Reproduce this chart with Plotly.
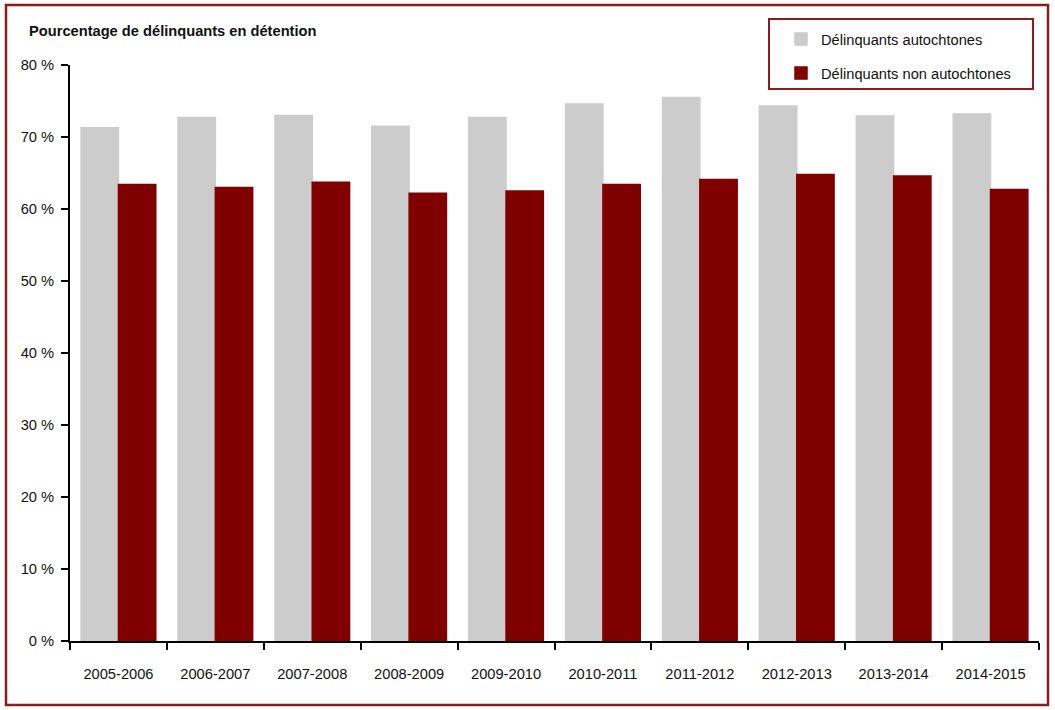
import plotly.graph_objects as go

# Données
years = ["2005-2006", "2006-2007", "2007-2008", "2008-2009", "2009-2010",
         "2010-2011", "2011-2012", "2012-2013", "2013-2014", "2014-2015"]
autochtones = [71.3, 72.7, 73.0, 71.5, 72.7, 74.6, 75.5, 74.3, 72.9, 73.2]
non_autochtones = [63.4, 63.0, 63.7, 62.2, 62.5, 63.4, 64.1, 64.8, 64.6, 62.7]
y_ticks = [0, 10, 20, 30, 40, 50, 60, 70, 80]
y_labels = [f"{v} %" for v in y_ticks]

GREY = "#cccccc"
RED = "#800000"
BORDER = "#8c1c1c"
FONT = "Arial, Liberation Sans, sans-serif"
FS = 14.67

W, H = 1055, 710
L, R, T, B = 70, 16, 65, 69
pw, ph = W - L - R, H - T - B


def px_x(x):
    return (x - L) / pw


def px_y(y):
    return 1 - (y - T) / ph


fig = go.Figure()
fig.add_trace(go.Bar(
    x=years, y=autochtones, name="Délinquants autochtones",
    marker=dict(color=GREY, line=dict(color=GREY, width=1.5)),
    legendgroup="a",
))
fig.add_trace(go.Bar(
    x=years, y=non_autochtones, name="Délinquants non autochtones",
    marker=dict(color=RED, line=dict(color=RED, width=1.5)),
    legendgroup="b",
))

fig.update_layout(
    width=W, height=H,
    margin=dict(l=L, r=R, t=T, b=B),
    paper_bgcolor="white", plot_bgcolor="white",
    font=dict(family=FONT, size=FS, color="#111111"),
    barmode="group", bargap=0.23, bargroupgap=0,
    title=dict(
        text="<b>Pourcentage de délinquants en détention</b>",
        x=29 / W, xanchor="left", xref="container",
        y=1 - 31 / H, yanchor="middle", yref="container",
        font=dict(size=FS, color="#111111"),
    ),
    showlegend=True,
    legend=dict(
        x=px_x(781), xanchor="left",
        y=px_y(23), yanchor="top",
        bgcolor="rgba(0,0,0,0)", borderwidth=0,
        tracegroupgap=12,
        font=dict(size=FS),
    ),
    xaxis=dict(
        showline=True, linecolor="black", linewidth=2,
        ticks="outside", tickson="boundaries", ticklen=7, tickwidth=2,
        tickcolor="black", ticklabelstandoff=18,
        showgrid=False, zeroline=False,
    ),
    yaxis=dict(
        range=[0, 80], tickvals=y_ticks, ticktext=y_labels,
        showline=True, linecolor="black", linewidth=2,
        ticks="outside", ticklen=7, tickwidth=2, tickcolor="black",
        ticklabelstandoff=4,
        showgrid=False, zeroline=False,
    ),
    shapes=[
        # cadre extérieur
        dict(type="rect", xref="paper", yref="paper",
             x0=px_x(6), x1=px_x(1048), y0=px_y(705), y1=px_y(5),
             line=dict(color=BORDER, width=2.5), layer="below"),
        # cadre de la légende
        dict(type="rect", xref="paper", yref="paper",
             x0=px_x(769), x1=px_x(1033), y0=px_y(89), y1=px_y(19),
             line=dict(color=BORDER, width=2), layer="below"),
    ],
)

# la page est photographiée sans marge de corps
fig.write_html(
    "out.html",
    config={"displayModeBar": False},
    post_script="document.body.style.margin='0';",
)
